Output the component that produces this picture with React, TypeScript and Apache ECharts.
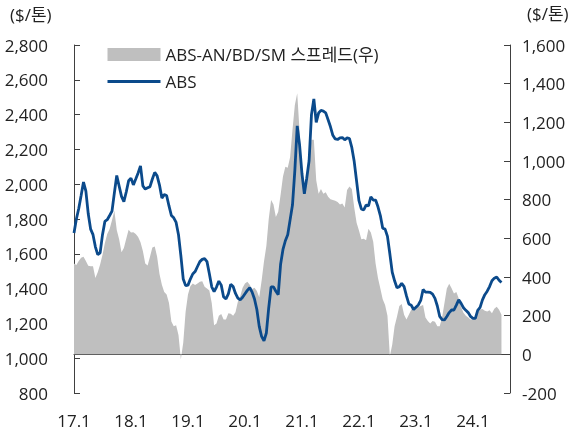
import React, { useEffect, useRef } from 'react';
import * as echarts from 'echarts';

// Semi-monthly observations starting Jan 2017 (24 per year)
const periodsPerYear = 24;
const yearLabels = ['17.1', '18.1', '19.1', '20.1', '21.1', '22.1', '23.1', '24.1'];
const unitLabel = '($/톤)';
const spreadName = 'ABS-AN/BD/SM 스프레드(우)';
const absName = 'ABS';

// ABS price ($/톤, left axis)
const abs = [
  1720, 1800, 1860, 1935, 2012, 1960, 1830, 1742, 1710, 1640, 1595, 1605, 1710, 1786, 1796, 1820, 1845, 1950, 2050, 1990, 1930, 1900, 1955, 2020,
  2035, 1996, 2030, 2065, 2105, 1990, 1972, 1979, 1986, 2030, 2068, 2048, 1995, 1920, 1940, 1935, 1875, 1820, 1807, 1780, 1710, 1590, 1455, 1417,
  1420, 1455, 1484, 1498, 1527, 1555, 1568, 1572, 1555, 1485, 1410, 1383, 1409, 1443, 1420, 1352, 1341, 1370, 1425, 1412, 1372, 1345, 1335, 1350,
  1370, 1390, 1405, 1380, 1340, 1280, 1183, 1125, 1100, 1145, 1290, 1410, 1410, 1385, 1365, 1540, 1625, 1675, 1710, 1795, 1880, 2080, 2335, 2225,
  2060, 1945, 2034, 2135, 2400, 2490, 2355, 2409, 2424, 2420, 2410, 2370, 2330, 2281, 2260, 2257, 2266, 2268, 2255, 2266, 2262, 2210, 2130, 2018,
  1905, 1858, 1852, 1880, 1875, 1928, 1909, 1909, 1870, 1820, 1747, 1742, 1700, 1600, 1495, 1445, 1405, 1411, 1430, 1411, 1358, 1312, 1305, 1280,
  1293, 1306, 1332, 1395, 1380, 1380, 1378, 1368, 1344, 1300, 1240, 1222, 1220, 1240, 1262, 1277, 1277, 1305, 1335, 1315, 1290, 1275, 1262, 1240,
  1229, 1229, 1275, 1292, 1335, 1365, 1385, 1412, 1445, 1460, 1467, 1448, 1435,
];

// ABS-AN/BD/SM spread ($/톤, right axis)
const spread = [
  470, 462, 483, 500, 505, 483, 458, 455, 455, 395, 425, 465, 515, 576, 622, 648, 693, 743, 643, 595, 528, 550, 598, 645,
  630, 632, 623, 607, 580, 535, 470, 460, 505, 552, 558, 505, 415, 360, 322, 310, 265, 170, 145, 150, 100, -25, 60, 220,
  310, 352, 367, 358, 366, 376, 378, 350, 340, 330, 265, 150, 160, 200, 208, 180, 180, 212, 210, 200, 218, 272, 300, 345,
  367, 376, 360, 338, 345, 328, 295, 380, 480, 560, 700, 798, 775, 710, 738, 826, 920, 970, 965, 1020, 1160, 1290, 1350, 1150,
  950, 830, 890, 1010, 1110, 1110, 900, 830, 855, 830, 838, 815, 802, 798, 794, 788, 775, 780, 760, 850, 868, 855, 760, 680,
  640, 595, 598, 590, 650, 630, 582, 470, 395, 340, 285, 255, 200, -10, 50, 145, 195, 250, 260, 205, 180, 205, 230, 240,
  246, 245, 250, 255, 190, 172, 160, 172, 169, 145, 145, 190, 265, 340, 365, 342, 315, 322, 290, 245, 215, 200, 190, 180,
  180, 195, 218, 232, 235, 225, 222, 228, 212, 236, 246, 230, 205,
];

const FONT = "'Open Sans', 'Noto Sans CJK KR', sans-serif";
const TEXT = '#222';
const AXIS = '#404040';
const GRAY = '#bfbfbf';
const BLUE = '#0b4a8b';

export default function App() {
  const ref = useRef<HTMLDivElement>(null);
  useEffect(() => {
    if (!ref.current) return;
    const chart = echarts.init(ref.current, null, { renderer: 'svg' });
    const toPairs = (arr: number[]) => arr.map((v, i) => [i / periodsPerYear, v]);
    const fmt = (v: number) => v.toLocaleString('en-US');
    chart.setOption({
      animation: false,
      textStyle: { fontFamily: FONT },
      grid: { left: 74, right: 65, top: 45, bottom: 42, containLabel: false },
      legend: {
        orient: 'vertical',
        left: 106,
        top: 46,
        padding: 0,
        itemWidth: 53,
        itemHeight: 13,
        itemGap: 10,
        selectedMode: false,
        textStyle: { fontSize: 17, color: TEXT, fontFamily: FONT },
        data: [
          { name: spreadName, icon: 'rect', itemStyle: { color: GRAY } },
          { name: absName, itemStyle: { opacity: 0 }, lineStyle: { color: BLUE, width: 3 } },
        ],
      },
      xAxis: {
        type: 'value',
        min: 0,
        max: 7.65,
        interval: 1,
        splitLine: { show: false },
        axisLine: { lineStyle: { color: AXIS, width: 1 } },
        axisTick: { inside: true, length: 6, lineStyle: { color: AXIS } },
        axisLabel: {
          showMaxLabel: false,
          formatter: (v: number) => (Number.isInteger(v) ? yearLabels[v] ?? '' : ''),
          margin: 19,
          fontSize: 17,
          color: TEXT,
          fontFamily: FONT,
        },
      },
      yAxis: [
        {
          type: 'value',
          position: 'left',
          min: 800,
          max: 2800,
          interval: 200,
          splitLine: { show: false },
          axisLine: { show: true, lineStyle: { color: AXIS, width: 1 } },
          axisTick: { show: true, inside: true, length: 6, lineStyle: { color: AXIS } },
          axisLabel: { formatter: fmt, margin: 26, fontSize: 17, color: TEXT, fontFamily: FONT },
        },
        {
          type: 'value',
          position: 'right',
          min: -200,
          max: 1600,
          interval: 200,
          splitLine: { show: false },
          axisLine: { show: true, lineStyle: { color: AXIS, width: 1 } },
          axisTick: { show: true, inside: true, length: 6, lineStyle: { color: AXIS } },
          axisLabel: { formatter: fmt, margin: 12, fontSize: 17, color: TEXT, fontFamily: FONT },
        },
      ],
      series: [
        {
          type: 'line',
          name: spreadName,
          yAxisIndex: 1,
          data: toPairs(spread),
          symbol: 'none',
          color: GRAY,
          lineStyle: { width: 0, color: GRAY },
          areaStyle: { color: GRAY, opacity: 1, origin: 0 },
          z: 1,
        },
        {
          type: 'line',
          name: absName,
          yAxisIndex: 0,
          data: toPairs(abs),
          symbol: 'none',
          color: BLUE,
          lineStyle: { width: 2.8, color: BLUE },
          z: 2,
        },
      ],
      graphic: [
        {
          type: 'text',
          left: 10,
          top: 6,
          style: { text: unitLabel, fontSize: 17, fill: TEXT, fontFamily: FONT },
        },
        {
          type: 'text',
          left: 527,
          top: 5,
          style: { text: unitLabel, fontSize: 17, fill: TEXT, fontFamily: FONT },
        },
      ],
    });
    return () => chart.dispose();
  }, []);
  return <div ref={ref} style={{ position: 'fixed', left: 0, top: 0, width: 575, height: 435 }} />;
}
